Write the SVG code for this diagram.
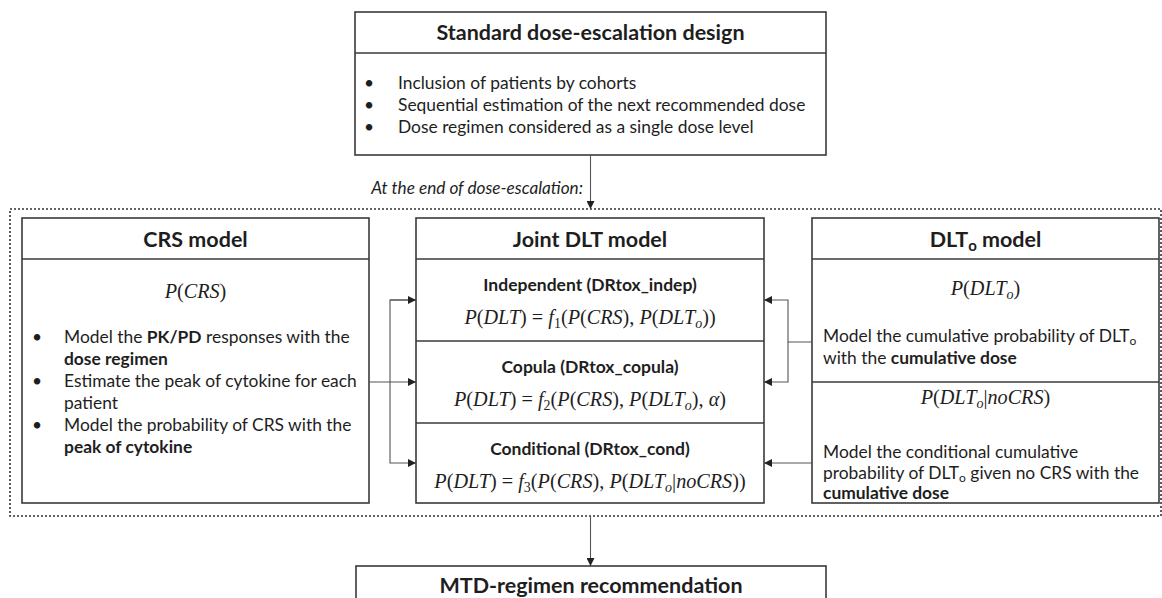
<svg xmlns="http://www.w3.org/2000/svg" width="1162" height="598" viewBox="0 0 1162 598">
<style>
.box{fill:#fff;stroke:#3a3a3a;stroke-width:1.6}
.div{stroke:#3a3a3a;stroke-width:1.6}
.h{font-family:Lato,"Open Sans",sans-serif;font-weight:bold;font-size:21.5px;fill:#1e1e1e;text-anchor:middle}
.sh{font-family:Lato,"Open Sans",sans-serif;font-weight:bold;font-size:17.5px;fill:#1e1e1e;text-anchor:middle}
.t{font-family:Lato,"Open Sans",sans-serif;font-size:17.4px;fill:#1e1e1e}
.b{font-weight:bold}
.it{font-family:Lato,"Open Sans",sans-serif;font-style:italic;font-size:17.2px;fill:#1e1e1e}
.m{font-family:"Liberation Serif",serif;font-size:20.2px;fill:#1e1e1e;text-anchor:middle}
.i{font-style:italic}
.c{fill:none;stroke:#555;stroke-width:1.1}
.dot{fill:none;stroke:#333;stroke-width:1.6;stroke-dasharray:2 2}
</style>
<defs>
<marker id="ah" viewBox="0 0 10 10" refX="10" refY="5" markerWidth="8" markerHeight="8" markerUnits="userSpaceOnUse" orient="auto">
<path d="M0,0 L10,5 L0,10 z" fill="#222"/>
</marker>
</defs>
<rect width="1162" height="598" fill="#fff"/>

<g id="top">
<rect class="box" x="355" y="12" width="471" height="143"/>
<line class="div" x1="355" y1="53" x2="826" y2="53"/>
<text class="h" x="590.5" y="40">Standard dose-escalation design</text>
<text class="t" x="364" y="89">•</text><text class="t" x="398" y="89">Inclusion of patients by cohorts</text>
<text class="t" x="364" y="111">•</text><text class="t" x="398" y="111">Sequential estimation of the next recommended dose</text>
<text class="t" x="364" y="133">•</text><text class="t" x="398" y="133">Dose regimen considered as a single dose level</text>
</g>

<text class="it" x="583" y="194" text-anchor="end">At the end of dose-escalation:</text>

<rect id="frame" class="dot" x="10" y="209" width="1151" height="307"/>

<g id="crs">
<rect class="box" x="22" y="218" width="347" height="285"/>
<line class="div" x1="22" y1="259" x2="369" y2="259"/>
<text class="h" x="195.5" y="247">CRS model</text>
<text class="m" x="195.5" y="298"><tspan class="i">P</tspan>(<tspan class="i">CRS</tspan>)</text>
<text class="t" x="32" y="343">•</text><text class="t" x="64" y="343">Model the <tspan class="b">PK/PD</tspan> responses with the</text>
<text class="t b" x="64" y="365">dose regimen</text>
<text class="t" x="32" y="387">•</text><text class="t" x="64" y="387">Estimate the peak of cytokine for each</text>
<text class="t" x="64" y="409">patient</text>
<text class="t" x="32" y="431">•</text><text class="t" x="64" y="431">Model the probability of CRS with the</text>
<text class="t b" x="64" y="453">peak of cytokine</text>
</g>

<g id="joint">
<rect class="box" x="416" y="218" width="348" height="285"/>
<line class="div" x1="416" y1="259" x2="764" y2="259"/>
<line class="div" x1="416" y1="341" x2="764" y2="341"/>
<line class="div" x1="416" y1="423" x2="764" y2="423"/>
<text class="h" x="590" y="247">Joint DLT model</text>
<text class="sh" x="590" y="291">Independent (DRtox_indep)</text>
<text class="m" x="590" y="324"><tspan class="i">P</tspan>(<tspan class="i">DLT</tspan>) = <tspan class="i">f</tspan><tspan font-size="14" dy="4">1</tspan><tspan dy="-4">(</tspan><tspan class="i">P</tspan>(<tspan class="i">CRS</tspan>), <tspan class="i">P</tspan>(<tspan class="i">DLT</tspan><tspan class="i" font-size="14" dy="4">o</tspan><tspan dy="-4">))</tspan></text>
<text class="sh" x="590" y="373">Copula (DRtox_copula)</text>
<text class="m" x="590" y="406"><tspan class="i">P</tspan>(<tspan class="i">DLT</tspan>) = <tspan class="i">f</tspan><tspan font-size="14" dy="4">2</tspan><tspan dy="-4">(</tspan><tspan class="i">P</tspan>(<tspan class="i">CRS</tspan>), <tspan class="i">P</tspan>(<tspan class="i">DLT</tspan><tspan class="i" font-size="14" dy="4">o</tspan><tspan dy="-4">), </tspan><tspan class="i">α</tspan>)</text>
<text class="sh" x="590" y="455">Conditional (DRtox_cond)</text>
<text class="m" x="590" y="488"><tspan class="i">P</tspan>(<tspan class="i">DLT</tspan>) = <tspan class="i">f</tspan><tspan font-size="14" dy="4">3</tspan><tspan dy="-4">(</tspan><tspan class="i">P</tspan>(<tspan class="i">CRS</tspan>), <tspan class="i">P</tspan>(<tspan class="i">DLT</tspan><tspan class="i" font-size="14" dy="4">o</tspan><tspan dy="-4">|</tspan><tspan class="i">noCRS</tspan>))</text>
</g>

<g id="dlto">
<rect class="box" x="812" y="218" width="347" height="285"/>
<line class="div" x1="812" y1="259" x2="1159" y2="259"/>
<line class="div" x1="812" y1="382" x2="1159" y2="382"/>
<text class="h" x="985.5" y="247">DLT<tspan font-size="15" dy="4">o</tspan><tspan dy="-4"> model</tspan></text>
<text class="m" x="985.5" y="295"><tspan class="i">P</tspan>(<tspan class="i">DLT</tspan><tspan class="i" font-size="14" dy="4">o</tspan><tspan dy="-4">)</tspan></text>
<text class="t" x="823" y="342">Model the cumulative probability of DLT<tspan font-size="12" dy="3">o</tspan></text>
<text class="t" x="823" y="364">with the <tspan class="b">cumulative dose</tspan></text>
<text class="m" x="985.5" y="404"><tspan class="i">P</tspan>(<tspan class="i">DLT</tspan><tspan class="i" font-size="14" dy="4">o</tspan><tspan dy="-4">|</tspan><tspan class="i">noCRS</tspan>)</text>
<text class="t" x="823" y="458">Model the conditional cumulative</text>
<text class="t" x="823" y="479">probability of DLT<tspan font-size="12" dy="3">o</tspan><tspan dy="-3"> given no CRS with the</tspan></text>
<text class="t b" x="823" y="499">cumulative dose</text>
</g>

<g id="mtd">
<rect class="box" x="356" y="566" width="470" height="60"/>
<text class="h" x="591" y="593">MTD-regimen recommendation</text>
</g>

<g id="connectors">
<line class="c" x1="590.5" y1="155" x2="590.5" y2="209" marker-end="url(#ah)"/>
<line class="c" x1="369" y1="382" x2="416" y2="382" marker-end="url(#ah)"/>
<polyline class="c" points="416,300 390,300 390,463 416,463" marker-end="url(#ah)"/>
<line class="c" x1="390" y1="300" x2="416" y2="300" marker-end="url(#ah)"/>
<polyline class="c" points="812,342 788,342 788,300 764,300" marker-end="url(#ah)"/>
<polyline class="c" points="788,342 788,382 764,382" marker-end="url(#ah)"/>
<line class="c" x1="812" y1="463" x2="764" y2="463" marker-end="url(#ah)"/>
<line class="c" x1="590.5" y1="516" x2="590.5" y2="566" marker-end="url(#ah)"/>
</g>
</svg>
